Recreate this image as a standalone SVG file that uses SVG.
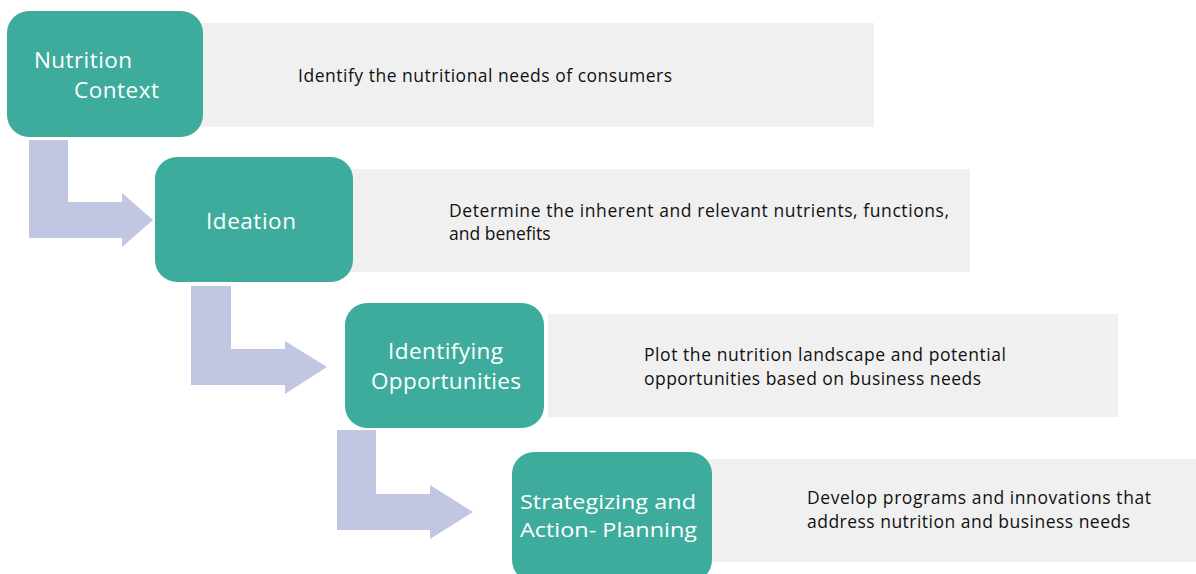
<svg xmlns="http://www.w3.org/2000/svg" width="1196" height="574" viewBox="0 0 1196 574">
  <style>
    .step { fill: #3dac9c; }
    .panel { fill: #f0f0f0; }
    .flow { fill: #c1c7e3; }
    .label { font-family: "Open Sans", "Noto Sans", sans-serif; font-size: 22.5px; fill: #ffffff; }
    .tight { font-size: 20.5px; }
    .desc { font-family: "Open Sans", "Noto Sans", sans-serif; font-size: 17.5px; fill: #111111; }
  </style>
  <rect width="1196" height="574" fill="#ffffff"/>

  <!-- descriptive panels behind each step -->
  <g id="panel-1"><rect class="panel" x="195" y="23" width="679" height="104"/>
    <text class="desc" x="298" y="82" textLength="374">Identify the nutritional needs of consumers</text></g>
  <g id="panel-2"><rect class="panel" x="345" y="169" width="625" height="103"/>
    <text class="desc" x="449" y="217" textLength="500">Determine the inherent and relevant nutrients, functions,</text>
    <text class="desc" x="449" y="240">and benefits</text></g>
  <g id="panel-3"><rect class="panel" x="548" y="314" width="570" height="103"/>
    <text class="desc" x="644" y="361" textLength="362">Plot the nutrition landscape and potential</text>
    <text class="desc" x="644" y="385" textLength="337">opportunities based on business needs</text></g>
  <g id="panel-4"><rect class="panel" x="705" y="459" width="491" height="103"/>
    <text class="desc" x="807" y="504" textLength="344">Develop programs and innovations that</text>
    <text class="desc" x="807" y="528" textLength="323">address nutrition and business needs</text></g>

  <!-- bent arrows between steps -->
  <g id="connectors">
    <path class="flow" d="M29,140 H68 V202 H122 V193 L153,220 L122,247 V238 H29 Z"/>
    <path class="flow" d="M191,286 H231 V349 H285 V341 L327,367 L285,394 V385 H191 Z"/>
    <path class="flow" d="M337,430 H376 V494 H430 V485 L473,512 L430,539 V530 H337 Z"/>
  </g>

  <g id="step-1"><rect class="step" x="7" y="11" width="196" height="126" rx="22"/>
    <text class="label" x="34" y="68" textLength="98">Nutrition</text>
    <text class="label" x="74" y="98" textLength="85">Context</text></g>
  <g id="step-2"><rect class="step" x="155" y="157" width="198" height="125" rx="22"/>
    <text class="label" x="206" y="229" textLength="90">Ideation</text></g>
  <g id="step-3"><rect class="step" x="345" y="303" width="199" height="125" rx="22"/>
    <text class="label" x="388" y="359" textLength="115">Identifying</text>
    <text class="label" x="371" y="389" textLength="150">Opportunities</text></g>
  <g id="step-4"><rect class="step" x="512" y="452" width="200" height="130" rx="22"/>
    <text class="label tight" x="520" y="509" textLength="176" lengthAdjust="spacingAndGlyphs">Strategizing and</text>
    <text class="label tight" x="520" y="537" textLength="177" lengthAdjust="spacingAndGlyphs">Action- Planning</text></g>
</svg>
